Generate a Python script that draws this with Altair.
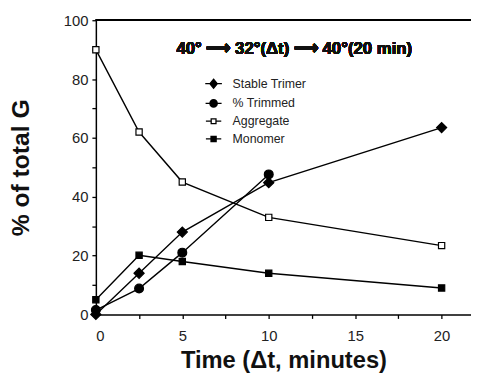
import altair as alt
import pandas as pd

# ---- data ----
series_names = ["Stable Trimer", "% Trimmed", "Aggregate", "Monomer"]
time_stable = [0, 2.5, 5, 10, 20]
stable_trimer = [0, 14, 28, 44.8, 63.5]
time_trimmed = [0, 2.5, 5, 10]
trimmed = [1.5, 8.8, 21, 47.6]
time_aggregate = [0, 2.5, 5, 10, 20]
aggregate = [90, 62, 45, 33, 23.4]
time_monomer = [0, 2.5, 5, 10, 20]
monomer = [5, 20.1, 18, 14, 9]

x_tick_values = [0, 2.5, 5, 7.5, 10, 12.5, 15, 17.5, 20]
y_tick_values = [0, 10, 20, 30, 40, 50, 60, 70, 80, 90, 100]
annotation = "40° ⟶ 32°(Δt) ⟶ 40°(20 min)"
x_title = "Time (Δt, minutes)"
y_title = "% of total G"

rows = []
for name, xs, ys in [
    (series_names[0], time_stable, stable_trimer),
    (series_names[1], time_trimmed, trimmed),
    (series_names[2], time_aggregate, aggregate),
    (series_names[3], time_monomer, monomer),
]:
    for t, v in zip(xs, ys):
        rows.append({"time": t, "value": v, "series": name})
df = pd.DataFrame(rows)

FONT = "Liberation Sans"

x_enc = alt.X(
    "time:Q",
    scale=alt.Scale(domain=[0, 21.7], nice=False, zero=False),
    axis=alt.Axis(
        values=x_tick_values,
        labelExpr="datum.value % 5 == 0 ? datum.label : ''",
        title=x_title,
        grid=False,
        titleFontSize=24,
        titleFontWeight="bold",
        titlePadding=6,
        labelPadding=10,
    ),
)
y_enc = alt.Y(
    "value:Q",
    scale=alt.Scale(domain=[0, 100], nice=False),
    axis=alt.Axis(
        values=y_tick_values,
        labelExpr="datum.value % 20 == 0 ? datum.label : ''",
        title=y_title,
        grid=False,
        titleFontSize=25,
        titleFontWeight="bold",
        titlePadding=30,
        labelPadding=4,
    ),
)

base = alt.Chart(df)

lines = base.mark_line(color="black", strokeWidth=1.4).encode(
    x=x_enc, y=y_enc, detail="series:N"
)

marker_styles = [
    ("diamond", "black", 105),
    ("circle", "black", 80),
    ("square", "white", 40),
    ("square", "black", 40),
]
point_layers = []
for name, (shp, fll, sz) in zip(series_names, marker_styles):
    point_layers.append(
        base.transform_filter(alt.datum.series == name)
        .mark_point(shape=shp, fill=fll, filled=True, stroke="black",
                    strokeWidth=1.2, size=sz, opacity=1)
        .encode(x=x_enc, y=y_enc)
    )

legend_paths = [
    "M-2.6,0H2.6M0,-1.4L1.15,0L0,1.4L-1.15,0Z",
    "M-2.5,0H2.5M-1.15,0A1.15,1.15,0,1,1,1.15,0A1.15,1.15,0,1,1,-1.15,0Z",
    "M-2.4,0H-0.75M0.75,0H2.4M-0.75,-0.75H0.75V0.75H-0.75Z",
    "M-2.4,0H2.4M-0.8,-0.8H0.8V0.8H-0.8Z",
]

legend_cfg = dict(
    title=None,
    orient="none",
    legendX=113,
    legendY=58,
    symbolSize=42,
    symbolStrokeWidth=1.3,
    labelFont=FONT,
    labelFontSize=12.5,
    labelColor="#222",
    labelOffset=13,
    rowPadding=5,
)

legend_layer = base.transform_filter("datum.value < -1000").mark_point(
    strokeWidth=1.3, opacity=1, filled=True
).encode(
    x=x_enc,
    y=y_enc,
    shape=alt.Shape(
        "series:N",
        scale=alt.Scale(domain=series_names, range=legend_paths),
        legend=alt.Legend(**legend_cfg),
    ),
    fill=alt.Fill(
        "series:N",
        scale=alt.Scale(domain=series_names,
                        range=["black", "black", "white", "black"]),
        legend=alt.Legend(**legend_cfg),
    ),
    stroke=alt.Stroke(
        "series:N",
        scale=alt.Scale(domain=series_names,
                        range=["black", "black", "black", "black"]),
        legend=alt.Legend(**legend_cfg),
    ),
)

top_rule = alt.Chart(df).mark_rule(color="black", strokeWidth=1.5).encode(
    y=alt.value(0), x=alt.value(0), x2=alt.value(380)
)

note = alt.Chart(df).mark_text(
    text=annotation, font=FONT, fontSize=17, fontWeight="bold",
    color="#111", align="center", baseline="middle",
).encode(x=alt.value(201), y=alt.value(29))

chart = alt.layer(lines, *point_layers, legend_layer, top_rule, note).resolve_scale(
    shape="independent", fill="independent", stroke="independent"
).properties(
    width=380,
    height=298,
    autosize=alt.AutoSizeParams(type="none"),
    padding={"left": 89, "top": 10, "right": 0, "bottom": 63},
    background="white",
).configure_view(stroke=None).configure_axis(
    domainColor="black",
    domainWidth=1.5,
    tickColor="black",
    tickWidth=1.3,
    tickSize=4,
    labelFont=FONT,
    labelFontSize=15,
    labelColor="#222",
    titleFont=FONT,
    titleColor="#111",
)

chart.save("out.html", embed_options={"renderer": "svg", "actions": False})
